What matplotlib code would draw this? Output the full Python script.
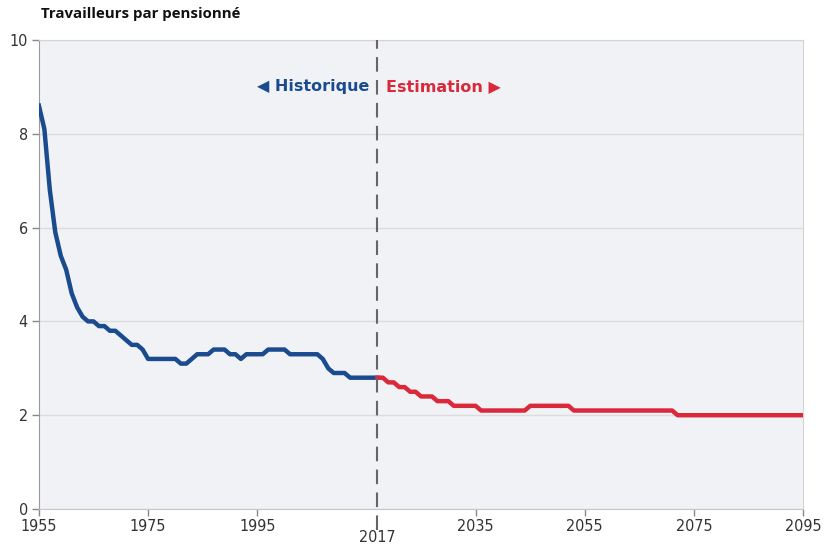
import matplotlib.pyplot as plt
import numpy as np

# historical values, one per year from 1955 to 2017
hist_years = list(range(1955, 2018))
hist_values = [8.6, 8.1, 6.8, 5.9, 5.4, 5.1, 4.6, 4.3, 4.1, 4.0,
               4.0, 3.9, 3.9, 3.8, 3.8, 3.7, 3.6, 3.5, 3.5, 3.4,
               3.2, 3.2, 3.2, 3.2, 3.2, 3.2, 3.1, 3.1, 3.2, 3.3,
               3.3, 3.3, 3.4, 3.4, 3.4, 3.3, 3.3, 3.2, 3.3, 3.3,
               3.3, 3.3, 3.4, 3.4, 3.4, 3.4, 3.3, 3.3, 3.3, 3.3,
               3.3, 3.3, 3.2, 3.0, 2.9, 2.9, 2.9, 2.8, 2.8, 2.8,
               2.8, 2.8, 2.8]

# projected values, 2017 to 2095
est_years = list(range(2017, 2096))
est_values = ([2.8, 2.8, 2.7, 2.7, 2.6, 2.6, 2.5, 2.5, 2.4, 2.4, 2.4,
               2.3, 2.3, 2.3] + [2.2] * 5 + [2.1] * 9 + [2.2] * 8
              + [2.1] * 19 + [2.0] * 24)

x_ticks = [1955, 1975, 1995, 2035, 2055, 2075, 2095]
y_ticks = [0, 2, 4, 6, 8, 10]

blue = '#1b4b8f'
red = '#d9293b'
num_font = dict(family='DejaVu Sans', stretch='condensed', fontsize=11.5, color='#333333')

fig = plt.figure(figsize=(8.28, 5.44), dpi=100)
ax = fig.add_axes([0.047, 0.0643, 0.923, 0.8622])
ax.set_facecolor('#f1f2f5')

ax.plot(hist_years, hist_values, color=blue, lw=3.2, solid_joinstyle='round', zorder=3)
ax.plot(est_years, est_values, color=red, lw=3.2, solid_joinstyle='round', zorder=3)

ax.set_xlim(1955, 2095)
ax.set_ylim(0, 10)
ax.set_xticks(x_ticks)
ax.set_yticks(y_ticks)
ax.set_xticklabels([str(t) for t in x_ticks], **num_font)
ax.set_yticklabels([str(t) for t in y_ticks], **num_font)
ax.tick_params(axis='both', direction='out', length=5, color='#888888', width=1)
ax.tick_params(axis='x', pad=2)
ax.tick_params(axis='y', pad=3)

ax.grid(axis='y', color='#dcdcdc', lw=1)
ax.set_axisbelow(True)
for side in ['top', 'right']:
    ax.spines[side].set_color('#d4d4d4')
ax.spines['bottom'].set_color('#c8c8c8')
ax.spines['left'].set_color('#9a9a9a')

# dashed separator at 2017, running below the axis
ax.axvline(2017, ymin=-0.045, ymax=1, color='#666666', lw=1.5,
           dashes=(7, 4), clip_on=False, zorder=4)
ax.text(2017, -0.045, '2017', transform=ax.get_xaxis_transform(), ha='center',
        va='top', **num_font)

ax.text(2015.5, 8.91, '\u25c0 Historique', ha='right', va='baseline', color=blue,
        fontsize=11.5, fontweight='bold', family='DejaVu Sans')
ax.text(2018.5, 8.91, 'Estimation \u25b6', ha='left', va='baseline', color=red,
        fontsize=11.5, fontweight='bold', family='DejaVu Sans')

fig.text(0.049, 0.974, 'Travailleurs par pensionné', ha='left', va='center',
         fontsize=10.8, fontweight='bold', color='#111111', family='Open Sans')

fig.savefig('out.png', dpi=100)
